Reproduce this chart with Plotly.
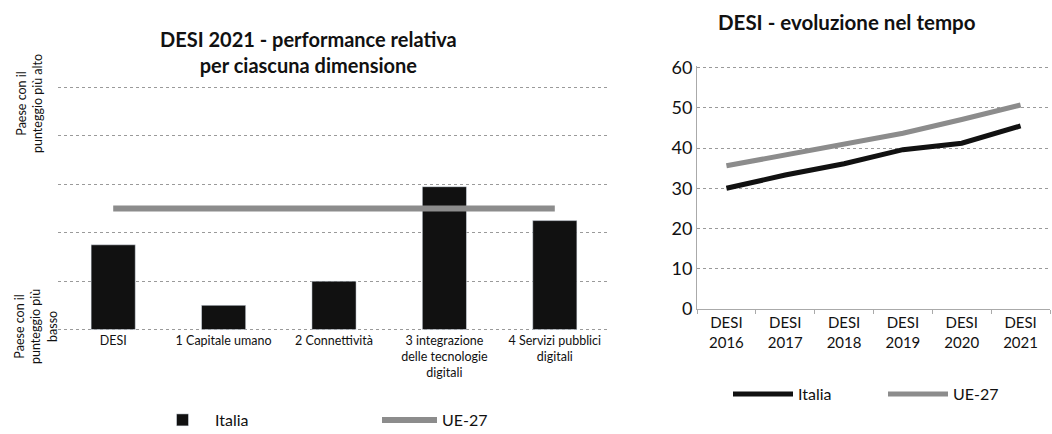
import plotly.graph_objects as go

# Left chart: DESI 2021 relative performance
dimensions = ["DESI", "1 Capitale umano", "2 Connettività",
              "3 integrazione<br>delle tecnologie<br>digitali",
              "4 Servizi pubblici<br>digitali"]
italia_rel = [35, 10, 20, 59, 45]
ue_rel = [50, 50, 50, 50, 50]

# Right chart: DESI evolution
years = ["DESI<br>2016", "DESI<br>2017", "DESI<br>2018", "DESI<br>2019", "DESI<br>2020", "DESI<br>2021"]
italia_desi = [30.0, 33.3, 36.1, 39.6, 41.2, 45.5]
ue_desi = [35.6, 38.3, 40.9, 43.7, 47.1, 50.7]

FONT = "Lato"
BLACK = "#111111"
GRAY = "#8c8c8c"
GRID = "#9a9a9a"
W, H = 1052, 434

fig = go.Figure()

fig.add_trace(go.Bar(x=dimensions, y=italia_rel, name="Italia", marker_color=BLACK,
                     xaxis="x", yaxis="y", legend="legend"))
fig.add_trace(go.Scatter(x=dimensions, y=ue_rel, name="UE-27", mode="lines",
                         line=dict(color=GRAY, width=6), xaxis="x", yaxis="y", legend="legend"))

fig.add_trace(go.Scatter(x=years, y=italia_desi, name="Italia", mode="lines",
                         line=dict(color=BLACK, width=5), xaxis="x2", yaxis="y2", legend="legend2"))
fig.add_trace(go.Scatter(x=years, y=ue_desi, name="UE-27", mode="lines",
                         line=dict(color=GRAY, width=5), xaxis="x2", yaxis="y2", legend="legend2"))

def px_x(p):
    return p / W

def px_y(p):
    return (H - p) / H

fig.update_layout(
    width=W, height=H,
    margin=dict(l=0, r=0, t=0, b=0, autoexpand=False),
    paper_bgcolor="white", plot_bgcolor="white",
    font=dict(family=FONT, color="#111111"),
    bargap=0.6,
    xaxis=dict(domain=[px_x(58), px_x(610)], showgrid=False, showline=False,
               tickfont=dict(size=12.5), ticks="", anchor="y", automargin=False),
    yaxis=dict(domain=[px_y(331), px_y(86)], range=[-0.6, 100.6], dtick=20,
               showgrid=True, gridcolor=GRID, griddash="dot", gridwidth=1,
               showticklabels=False, zeroline=False, showline=False, anchor="x",
               automargin=False),
    xaxis2=dict(domain=[px_x(697), px_x(1050)], range=[-0.5, 5.5], showgrid=False, showline=True,
                linecolor="#aaaaaa", linewidth=1, ticks="outside", tickson="boundaries",
                ticklen=4, tickcolor="#aaaaaa", tickfont=dict(size=15), anchor="y2",
                automargin=False),
    yaxis2=dict(domain=[px_y(309), px_y(66)], range=[0, 60.4], dtick=10,
                showgrid=True, gridcolor=GRID, griddash="dot", gridwidth=1,
                showline=True, linecolor="#aaaaaa", linewidth=1, zeroline=False,
                tickfont=dict(size=18), anchor="x2", automargin=False),
    legend=dict(orientation="h", x=px_x(150), xanchor="left", y=px_y(420), yanchor="middle",
                entrywidth=157, entrywidthmode="pixels", itemwidth=55,
                font=dict(size=16), bgcolor="rgba(0,0,0,0)"),
    legend2=dict(orientation="h", x=px_x(728), xanchor="left", y=px_y(394), yanchor="middle",
                 entrywidth=80, entrywidthmode="pixels", itemwidth=60,
                 font=dict(size=16), bgcolor="rgba(0,0,0,0)"),
    annotations=[
        dict(text="<b>DESI 2021 - performance relativa<br>per ciascuna dimensione</b>",
             x=px_x(308), y=px_y(52), xref="paper", yref="paper", showarrow=False,
             font=dict(size=20), xanchor="center", yanchor="middle"),
        dict(text="<b>DESI - evoluzione nel tempo</b>",
             x=px_x(847), y=px_y(22), xref="paper", yref="paper", showarrow=False,
             font=dict(size=20.5), xanchor="center", yanchor="middle"),
        dict(text="Paese con il<br>punteggio più alto", textangle=-90,
             x=px_x(30), y=px_y(104), xref="paper", yref="paper", showarrow=False,
             font=dict(size=12.5), xanchor="center", yanchor="middle"),
        dict(text="Paese con il<br>punteggio più<br>basso", textangle=-90,
             x=px_x(36), y=px_y(327), xref="paper", yref="paper", showarrow=False,
             font=dict(size=12.5), xanchor="center", yanchor="middle"),
    ],
)

fig.write_html("out.html", config={"displayModeBar": False},
               post_script="document.body.style.margin='0';")
